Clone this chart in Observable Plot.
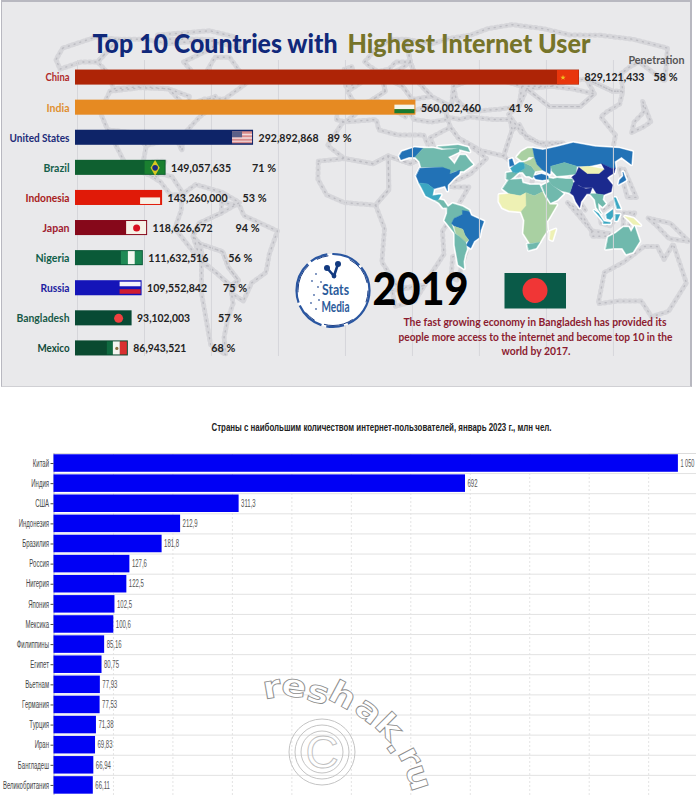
<!DOCTYPE html>
<html lang="en"><head><meta charset="utf-8">
<style>
html,body{margin:0;padding:0;background:#fff}
#page{position:relative;width:696px;height:795px;overflow:hidden;background:#fff}
#page>svg,#page>div{position:absolute;display:block}
</style>
<script src="https://cdn.jsdelivr.net/npm/d3@7"></script>
<script src="https://cdn.jsdelivr.net/npm/@observablehq/plot@0.6"></script>
</head><body><div id="page"></div>
<script>
const HEAVY = 'Lato,"Liberation Sans",sans-serif';
const PLAIN = '"Liberation Sans",sans-serif';

// Top chart (2019)
const countries2019 = ["China","India","United States","Brazil","Indonesia","Japan","Nigeria","Russia","Bangladesh","Mexico"];
const users2019 = [829121433,560002460,292892868,149057635,143260000,118626672,111632516,109552842,93102003,86943521];
const penetration2019 = [58,41,89,71,53,94,56,75,57,68];
const barColors = ["#ae2406","#e68a22","#0e2468","#0f6030","#e01a08","#86081a","#0a5a38","#1414b8","#084a34","#0a4a30"];
const nameColors = ["#b02a2a","#e09030","#1c2a78","#16604a","#a82020","#a02030","#10604a","#2020a0","#185a48","#104a38"];
const pctGaps = [69,88,69,81,75,83,80,76,81,78];
const gridTop = [0,1,2,3,4,5,6,7,8].map(i => 3300000 + i*110200000);
const nameWidths = {"China":24,"India":23,"United States":60,"Brazil":26,"Indonesia":44,"Japan":27,"Nigeria":34,"Russia":29,"Bangladesh":53,"Mexico":32};

// Bottom chart (January 2023)
const countries2023 = ["Китай","Индия","США","Индонезия","Бразилия","Россия","Нигерия","Япония","Мексика","Филиппины","Египет","Вьетнам","Германия","Турция","Иран","Бангладеш","Великобритания"];
const users2023 = [1050,692,311.3,212.9,181.8,127.6,122.5,102.5,100.6,85.16,80.75,77.93,77.53,71.38,69.83,66.94,66.11];
const labels2023 = ["1 050","692","311,3","212,9","181,8","127,6","122,5","102,5","100,6","85,16","80,75","77,93","77,53","71,38","69,83","66,94","66,11"];
const grid2023 = [100,200,300,400,500,600,700,800,900,1000];

// Map shapes, lon/lat outlines, with colour class
const NAVY="#1b2a8e",BLUE="#2272b6",MID="#3ba7c2",TEAL="#70b9ad",LGREEN="#a9d0a2",PALE="#eef1b4";
const land = [
 [BLUE,[[-168,66],[-156,71],[-141,70],[-141,60],[-150,60],[-158,57],[-165,61]]],
 [TEAL,[[-141,70],[-125,70],[-110,68],[-95,69],[-85,70],[-82,66],[-94,60],[-85,55],[-80,52],[-78,62],[-70,62],[-60,55],[-55,52],[-65,45],[-75,45],[-83,42],[-95,49],[-123,49],[-130,55],[-141,60]]],
 [TEAL,[[-120,72],[-105,73],[-90,74],[-72,71],[-66,66],[-78,68],[-90,70],[-110,70]]],
 [BLUE,[[-124,48],[-95,49],[-83,46],[-82,42],[-70,46],[-70,42],[-75,38],[-81,31],[-80,25],[-84,30],[-97,27],[-106,32],[-117,33],[-124,40]]],
 [MID,[[-117,33],[-106,32],[-97,27],[-97,20],[-90,21],[-87,21],[-90,15],[-95,16],[-105,20],[-112,28]]],
 [TEAL,[[-92,15],[-88,16],[-83,15],[-77,8],[-83,8],[-88,13]]],
 [TEAL,[[-78,8],[-72,12],[-60,9],[-52,5],[-60,1],[-70,-3],[-73,-8],[-70,-18],[-81,-5],[-78,2]]],
 [BLUE,[[-60,5],[-52,4],[-50,0],[-35,-6],[-39,-15],[-41,-22],[-48,-26],[-53,-33],[-58,-30],[-54,-25],[-58,-20],[-60,-14],[-70,-11],[-73,-8],[-70,-3],[-60,1]]],
 [LGREEN,[[-70,-11],[-60,-14],[-58,-20],[-54,-25],[-58,-27],[-64,-22],[-69,-18]]],
 [TEAL,[[-70,-18],[-64,-22],[-58,-27],[-58,-34],[-62,-40],[-66,-47],[-68,-54],[-74,-50],[-72,-30]]],
 [TEAL,[[-9,37],[-9,43],[-1,44],[3,43],[7,44],[12,44],[16,40],[20,40],[24,38],[28,45],[24,50],[14,54],[15,48],[7,44],[0,39],[-5,36]]],
 [MID,[[-1,44],[-4,48],[2,51],[8,54],[14,54],[15,48],[7,44],[3,43]]],
 [LGREEN,[[5,60],[12,66],[22,70],[30,70],[30,60],[22,60],[18,57],[12,56],[8,58]]],
 [BLUE,[[-5,50],[1,51],[-2,58],[-6,57]]],
 [LGREEN,[[14,54],[24,57],[30,60],[32,52],[38,46],[30,45],[28,45],[24,50]]],
 [BLUE,[[30,60],[30,70],[45,68],[70,72],[100,77],[130,72],[165,70],[179,66],[170,60],[160,52],[155,60],[140,55],[135,48],[130,48],[120,53],[100,50],[85,50],[70,54],[50,50],[47,42],[38,46],[32,52]]],
 [BLUE,[[26,40],[36,42],[44,40],[44,37],[36,36],[28,37]]],
 [TEAL,[[50,50],[70,54],[85,50],[80,42],[70,41],[55,40],[50,45]]],
 [PALE,[[87,49],[100,50],[120,47],[110,42],[95,42]]],
 [NAVY,[[74,39],[80,42],[87,49],[95,42],[110,42],[120,47],[120,53],[130,48],[135,48],[130,43],[122,40],[118,38],[122,31],[118,24],[108,21],[100,22],[97,28],[85,28],[78,32]]],
 [NAVY,[[68,23],[74,33],[78,35],[80,30],[88,27],[96,28],[92,22],[88,22],[80,14],[78,8],[74,14],[72,20]]],
 [TEAL,[[44,38],[50,37],[55,38],[66,37],[74,37],[74,33],[68,23],[58,25],[50,29],[48,30],[45,34]]],
 [TEAL,[[35,30],[45,34],[48,30],[56,25],[60,22],[52,16],[44,13],[38,22]]],
 [TEAL,[[92,22],[100,22],[108,21],[106,16],[109,12],[105,9],[100,13],[100,6],[103,2],[98,8],[97,16]]],
 [BLUE,[[130,32],[136,34],[141,36],[142,44],[140,40],[133,36]]],
 [MID,[[95,5],[105,-5],[106,-6],[100,2]]],
 [MID,[[106,-6],[114,-7],[114,-8],[106,-8]]],
 [MID,[[109,1],[117,6],[118,0],[114,-4],[110,-3]]],
 [MID,[[120,1],[125,1],[122,-5],[120,-5]]],
 [PALE,[[131,-1],[141,-3],[150,-10],[141,-9],[135,-4]]],
 [MID,[[120,18],[122,18],[126,7],[122,7]]],
 [TEAL,[[114,-22],[122,-18],[130,-12],[136,-12],[140,-17],[143,-11],[153,-26],[150,-37],[143,-39],[135,-33],[124,-33],[115,-34]]],
 [TEAL,[[-6,36],[10,37],[11,33],[20,31],[32,31],[35,24],[25,20],[15,23],[8,20],[-5,22],[-13,27]]],
 [PALE,[[-17,21],[-5,22],[8,20],[15,23],[15,10],[9,4],[-5,5],[-13,8],[-17,14]]],
 [LGREEN,[[25,20],[35,24],[38,18],[43,11],[51,11],[42,-2],[39,-6],[40,-15],[35,-22],[32,-27],[20,-28],[12,-18],[13,-5],[9,4],[15,10],[15,23]]],
 [TEAL,[[17,-29],[32,-27],[28,-33],[19,-35]]],
 [PALE,[[44,-16],[50,-14],[47,-25],[44,-24]]]
];
const features = land.map(([color,ring]) => {
  const closed = [...ring, ring[0]];
  let f = {type:"Feature",properties:{color},geometry:{type:"Polygon",coordinates:[closed]}};
  if (d3.geoArea(f) > 2*Math.PI) f.geometry.coordinates = [closed.slice().reverse()];
  return f;
});
const page = document.getElementById("page");
function place(el,left,top){el.style.left=left+"px";el.style.top=top+"px";page.appendChild(el);return el;}

// grey background world map
const greyMap = Plot.plot({
  width:688,height:384,margin:0,
  projection:d3.geoNaturalEarth1().scale(147).translate([353,213]).precision(1),
  style:{background:"#e9e9eb"},
  marks:[
    Plot.geo(features,{fill:"none",stroke:"#d6d6da",strokeWidth:5,strokeDasharray:"2 3"}),
    Plot.geo(features,{fill:"none",stroke:"#bcbcc2",strokeWidth:1.4,strokeDasharray:"1 5"})
  ]
});
greyMap.style.borderTop="2px solid #b8b8c0";
greyMap.style.borderLeft="1px solid #b8b8c0";
greyMap.style.borderRight="2px solid #b8b8c0";
greyMap.style.borderBottom="1px solid #d0d0d4";
place(greyMap,1,0);

// coloured world map
const colorMap = Plot.plot({
  width:696,height:388,margin:0,
  projection:d3.geoNaturalEarth1().scale(56).translate([513,215]).precision(1),
  style:{background:"transparent"},
  marks:[
    Plot.geo(features,{stroke:"#fff",strokeWidth:3.5,fill:"#fff"}),
    Plot.geo(features,{fill:d=>d.properties.color,stroke:d=>d.properties.color,strokeWidth:.4})
  ]
});
place(colorMap,0,0);

// top bars
const rows = countries2019.map((name,i)=>({name,value:users2019[i],pct:penetration2019[i],bar:barColors[i],label:nameColors[i],gap:pctGaps[i]}));
const byName = Object.fromEntries(rows.map(r=>[r.name,r]));
const pxU = 829121433/504;
function part(name,a,b,t,bo,fill){
  const r = byName[name];
  return Plot.barX([r],{x1:d=>d.value-a*pxU,x2:d=>d.value-b*pxU,y:"name",insetTop:t,insetBottom:15-bo,fill});
}
function spot(name,at,r,fill,symbol="circle"){
  const row = byName[name];
  return Plot.dot([row],{x:d=>d.value-at*pxU,y:"name",r,fill,symbol});
}
const flagMarks = [
  part("China",22,0.5,0.5,14.5,"#e8360c"), spot("China",16.5,1.7,"#f0c020","star"),
  part("India",21,1,5,9.5,"#f4f4ec"), part("India",21,1,9.5,13.5,"#1a7a30"),
  part("United States",21,1,1.5,13.5,"#d88c8c"), part("United States",21,1,4,5.5,"#f2dcdc"), part("United States",21,1,7.5,9,"#f2dcdc"), part("United States",21,1,11,12,"#f2dcdc"), part("United States",21,11,1.5,7.5,"#5b6088"),
  part("Brazil",21,1,1,14,"#1a8030"), spot("Brazil",11,4.8,"#d8c820","diamond"), spot("Brazil",11,2.8,"#1c2c80"),
  part("Indonesia",22,2,7.5,14,"#f6f1e6"),
  part("Japan",21,1,1,14,"#f6f1e6"), spot("Japan",11,3.5,"#d81020"),
  part("Nigeria",22,15,1,14,"#1f8a55"), part("Nigeria",15,8,1,14,"#f4f8f0"), part("Nigeria",8,1,1,14,"#1f8a55"),
  part("Russia",22,1,1.5,6,"#f4f4fa"), part("Russia",22,1,9,13.5,"#d01c30"),
  spot("Bangladesh",13.5,4.5,"#f04040"),
  part("Mexico",21,15,1,14,"#0f6a40"), part("Mexico",15,8,1,14,"#f4f4f0"), part("Mexico",8,1,1,14,"#d83030"), spot("Mexico",11.5,1.6,"#8a7040")
];
// text placed in page pixels: frame anchors count from the plot's margins
const absAt = (ox,oy) => (s,x,y,o={}) => Plot.text([s],{text:d=>d,frameAnchor:"top-left",lineAnchor:"middle",dx:x-ox,dy:y-oy,fontFamily:HEAVY,fontWeight:"bold",textAnchor:"start",...o});
const absTop = absAt(0,60), absBot = absAt(53.5,65);

function decor(){
  const g = d3.create("svg:g");
  g.append("circle").attr("cx",333).attr("cy",290.5).attr("r",37).attr("fill","#fff");
  g.append("circle").attr("cx",333).attr("cy",290.5).attr("r",36.5).attr("fill","none").attr("stroke","#2a56a0").attr("stroke-width",2.2).attr("stroke-dasharray","42 4 18 5 30 3");
  g.append("circle").attr("cx",333).attr("cy",290.5).attr("r",35).attr("fill","none").attr("stroke","#1c3f86").attr("stroke-width",1).attr("stroke-dasharray","12 22 30 10");
  g.append("path").attr("d","M327 268 L334 276 L338 264").attr("fill","none").attr("stroke","#123a80").attr("stroke-width",2.6);
  [[327,268,3],[338,264,3],[334,276,2.4]].forEach(([x,y,r])=>g.append("circle").attr("cx",x).attr("cy",y).attr("r",r).attr("fill","#123a80"));
  [[316,274],[312,281],[318,287],[314,295],[311,303],[316,309],[321,282],[319,300]].forEach(([x,y])=>g.append("circle").attr("cx",x).attr("cy",y).attr("r",.9).attr("fill","#4c6ca8"));
  g.append("rect").attr("x",504.5).attr("y",273).attr("width",61.5).attr("height",35.5).attr("fill","#0a5a48");
  g.append("circle").attr("cx",535).attr("cy",290.5).attr("r",12.5).attr("fill","#f03636");
  return g.node();
}

const topPlot = Plot.plot({
  width:696,height:388,marginLeft:0,marginRight:0,marginTop:60,marginBottom:32,
  style:{background:"transparent"},
  x:{domain:[0,829121433],range:[75,579],axis:null},
  y:{domain:countries2019,range:[54.5,370.5],padding:0.5,round:false,axis:null},
  marks:[
    Plot.ruleX(gridTop,{stroke:"#d6d6da",strokeWidth:1}),
    Plot.barX(rows,{x:"value",y:"name",fill:"bar"}),
    ...flagMarks,
    Plot.text(rows,{x:0,y:"name",dx:-6,text:"name",fill:"label",textAnchor:"end",fontFamily:HEAVY,fontWeight:"bold",fontSize:12}),
    Plot.text(rows,{x:"value",y:"name",dx:5,text:d=>d3.format(",")(d.value),fill:"#222",textAnchor:"start",fontFamily:HEAVY,fontWeight:"bold",fontSize:12}),
    ...rows.map(r=>Plot.text([r],{x:"value",y:"name",dx:5+r.gap,text:d=>d.pct+" %",fill:"#222",textAnchor:"start",fontFamily:HEAVY,fontWeight:"bold",fontSize:12})),
    decor,
    absTop("Top 10 Countries with",92,44,{fontSize:27,fontWeight:900,fill:"#10287a"}),
    absTop("Highest Internet User",347,44,{fontSize:27,fontWeight:900,fill:"#76742a"}),
    absTop("Penetration",684,59.5,{textAnchor:"end",fontSize:11,fill:"#555"}),
    absTop("2019",372,290.5,{fontSize:45,fontWeight:900,fill:"#000"}),
    absTop("Stats",335,290,{textAnchor:"middle",fontSize:14.5,fill:"#2a5a9a"}),
    absTop("Media",335,307,{textAnchor:"middle",fontSize:14.5,fill:"#2a5a9a"}),
    absTop("The fast growing economy in Bangladesh has provided its",403,322,{fontSize:11,fill:"#8c1c30"}),
    absTop("people more access to the internet and become top 10 in the",398,336.5,{fontSize:11,fill:"#8c1c30"}),
    absTop("world by 2017.",501,351,{fontSize:11,fill:"#8c1c30"})
  ]
});
place(topPlot,0,0);

// fits text to a measured width, squeezing glyphs like the reference's condensed type
function fit(t,w){t.setAttribute("textLength",w);t.setAttribute("lengthAdjust","spacingAndGlyphs");}
const fixedWidths = {"Top 10 Countries with":245,"Highest Internet User":243,"Penetration":56,"2019":96,"Stats":27,"Media":28,
  "The fast growing economy in Bangladesh has provided its":263,"people more access to the internet and become top 10 in the":274,"world by 2017.":69,...nameWidths};
topPlot.querySelectorAll("text").forEach(t=>{
  const s=t.textContent;
  if (fixedWidths[s]) fit(t,fixedWidths[s]);
  else if (s.includes("%")) fit(t,24);
  else if (s.includes(",")) fit(t,s.length>10?60:53);
});

// bottom chart
const rows23 = countries2023.map((name,i)=>({name,value:users2023[i],label:labels2023[i]}));
const wmLetters = [["r",272,689,-10],["e",294,688,8],["s",318,694,15],["h",342,697,28],["a",368,712,38],["k",388,728,45],[".",396,746,55],["r",409,757,62],["u",417,778,72]];
function watermark(){
  const g = d3.create("svg:g");
  [33,27,21].forEach(r=>g.append("circle").attr("cx",322).attr("cy",364).attr("r",r).attr("fill","none").attr("stroke","#c4c4c4").attr("stroke-width",1));
  g.append("text").attr("class","wm").attr("x",322).attr("y",380).attr("text-anchor","middle").attr("font-family","Liberation Sans").attr("font-size",46).attr("fill","none").attr("stroke","#c0c0c0").attr("stroke-width",.9).text("C");
  wmLetters.forEach(([c,x,y,a])=>g.append("text").attr("class","wm").attr("transform",`translate(${x},${y-388}) rotate(${a}) scale(1.2,1)`).attr("text-anchor","middle").attr("dy","0.28em").attr("font-family","DejaVu Sans").attr("font-weight","bold").attr("font-size",31).attr("fill","#fff").attr("stroke","#8c8c8c").attr("stroke-width",.8).text(c));
  return g.node();
}
const bottomPlot = Plot.plot({
  width:696,height:407,marginLeft:53.5,marginRight:18.1,marginTop:65,marginBottom:0,
  style:{background:"transparent"},
  x:{domain:[0,1050],axis:null},
  y:{domain:countries2023,range:[63.65,408.3],padding:0.13,round:false,label:null},
  marks:[
    Plot.ruleX(grid2023,{stroke:"#e4e4e4",strokeDasharray:"2 2"}),
    Plot.ruleY(countries2023.slice(0,1),{y:d=>d,dy:-10,x1:0,x2:1081,stroke:"#dcdcdc"}),
    Plot.ruleY(countries2023,{y:d=>d,dy:10.06,x1:0,x2:1081,stroke:"#e2e2e2"}),
    Plot.ruleX([0],{stroke:"#b4b4c4"}),
    watermark,
    Plot.barX(rows23,{x:"value",y:"name",fill:"#0000f5"}),
    Plot.text(rows23,{x:"value",y:"name",dx:2,text:"label",fill:"#555",textAnchor:"start",fontFamily:PLAIN,fontSize:10}),
    Plot.axisY({anchor:"left",tickSize:3,tickPadding:2,fontSize:10,fontFamily:PLAIN,color:"#444",label:null}),
    absBot("Страны с наибольшим количеством интернет-пользователей, январь 2023 г., млн чел.",381,39,{textAnchor:"middle",fontFamily:PLAIN,fontSize:11.5,fill:"#222"})
  ]
});
place(bottomPlot,0,388);
bottomPlot.querySelectorAll("text").forEach(t=>{
  if (t.getAttribute("class")==="wm") return;
  if (t.textContent.startsWith("Страны")) fit(t,340);
  else if (t.textContent==="1 050") fit(t,14);
  else fit(t,t.getComputedTextLength()*0.6);
});
</script></body></html>
